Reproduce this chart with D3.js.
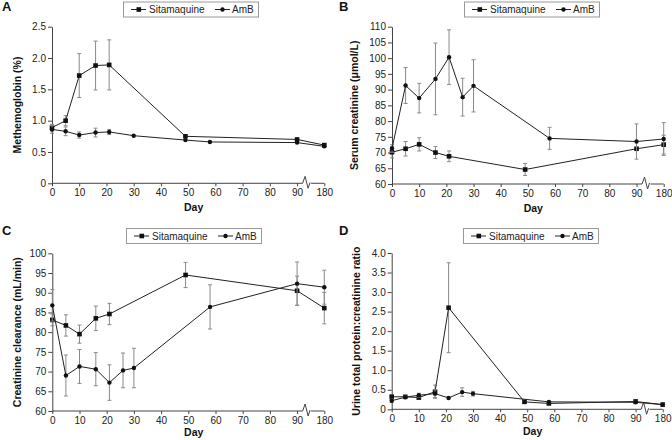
<!DOCTYPE html>
<html><head><meta charset="utf-8">
<script src="https://cdn.jsdelivr.net/npm/d3@7"></script>
<style>
body{margin:0;background:#fff;}
svg{display:block;font-family:"Liberation Sans",Arial,sans-serif;}
</style></head>
<body><svg id="c" width="672" height="440"></svg>
<script>
// ---- data ----
const xTicks = [0,10,20,30,40,50,60,70,80,90,180];
const seriesNames = ["Sitamaquine","AmB"];

// A: Methemoglobin (%)
const sitaDaysA = [0,5,10,16,21,49,90,180];
const sitaA     = [0.89,1.00,1.72,1.88,1.89,0.75,0.70,0.61];
const sitaErrA  = [0.05,0.08,0.35,0.39,0.40,0,0,0];
const ambDaysA  = [0,5,10,16,21,30,49,58,90,180];
const ambA      = [0.86,0.83,0.77,0.81,0.82,0.76,0.69,0.66,0.65,0.59];
const ambErrA   = [0.06,0.07,0.05,0.07,0.04,0,0,0,0,0];
const yTicksA   = [0,0.5,1.0,1.5,2.0,2.5];

// B: Serum creatinine (µmol/L)
const sitaDaysB = [0,5,10,16,21,49,90,180];
const sitaB     = [70.1,71.2,72.6,70.0,68.8,64.6,71.2,72.5];
const sitaErrB  = [1.8,2.3,2.1,1.9,1.7,1.9,0,3.0];
const ambDaysB  = [0,5,10,16,21,26,30,58,90,180];
const ambB      = [71.3,91.3,87.3,93.4,100.3,87.6,91.2,74.5,73.5,74.3];
const ambErrB   = [1.2,5.7,4.7,11.4,8.7,6.0,8.3,3.5,5.6,5.2];
const yTicksB   = [60,65,70,75,80,85,90,95,100,105,110];

// C: Creatinine clearance (mL/min)
const sitaDaysC = [0,5,10,16,21,49,90,180];
const sitaC     = [83.1,81.7,79.5,83.5,84.6,94.5,90.5,86.1];
const sitaErrC  = [1.5,2.7,2.3,3.1,2.7,3.2,3.7,4.0];
const ambDaysC  = [0,5,10,16,21,26,30,58,90,180];
const ambC      = [86.8,69.0,71.3,70.6,67.2,70.3,70.9,86.4,92.3,91.4];
const ambErrC   = [4.0,5.2,4.3,4.2,4.5,4.4,5.0,5.6,5.5,4.3];
const yTicksC   = [60,65,70,75,80,85,90,95,100];

// D: Urine total protein:creatinine ratio
const sitaDaysD = [0,5,10,16,21,49,58,90,180];
const sitaD     = [0.32,0.32,0.30,0.45,2.60,0.19,0.15,0.20,0.12];
const sitaErrD  = [0.05,0.02,0.04,0.17,1.15,0.03,0.03,0.04,0.02];
const ambDaysD  = [0,5,10,16,21,26,30,58,90,180];
const ambD      = [0.22,0.31,0.36,0.40,0.29,0.44,0.40,0.19,0.18,0.12];
const ambErrD   = [0.04,0.03,0.05,0.10,0,0.11,0.06,0.02,0.03,0.02];
const yTicksD   = [0,0.5,1.0,1.5,2.0,2.5,3.0,3.5,4.0];

// ---- layout ----
const zip = (d,v,e) => d.map((x,i)=>({day:x, v:v[i], e:e[i]}));
const panels = [
  {letter:"A", title:"Methemoglobin (%)", box:[52,324.3,26.7,183.3], yt:yTicksA, fmt:d=>d===0?"0":d3.format(".1f")(d),
   sita:zip(sitaDaysA,sitaA,sitaErrA), amb:zip(ambDaysA,ambA,ambErrA), lx:123, ly:1.5, tx:17, dayOff:28},
  {letter:"B", title:"Serum creatinine (\u03bcmol/L)", box:[392,663.7,26.7,184], yt:yTicksB, fmt:d3.format("d"),
   sita:zip(sitaDaysB,sitaB,sitaErrB), amb:zip(ambDaysB,ambB,ambErrB), lx:464, ly:1.5, tx:354, dayOff:28},
  {letter:"C", title:"Creatinine clearance (mL/min)", box:[52.3,324.3,253.3,411], yt:yTicksC, fmt:d3.format("d"),
   sita:zip(sitaDaysC,sitaC,sitaErrC), amb:zip(ambDaysC,ambC,ambErrC), lx:126, ly:228, tx:17, dayOff:25},
  {letter:"D", title:"Urine total protein:creatinine ratio", box:[391.7,662.7,253,409.3], yt:yTicksD, fmt:d=>d===0?"0":d3.format(".1f")(d),
   sita:zip(sitaDaysD,sitaD,sitaErrD), amb:zip(ambDaysD,ambD,ambErrD), lx:463, ly:228, tx:356, dayOff:26}
];
const letterPos = [[2,11],[339,11],[2,235],[339,235]];

const svg = d3.select("#c");
const ink = "#222", errc = "#8a8a8a";

panels.forEach((p,pi)=>{
  const [x0,x1,y0,y1] = p.box;
  const g = svg.append("g");
  const x = d3.scaleLinear().domain([0,90,180]).range([x0, x0+0.9*(x1-x0), x1]);
  const y = d3.scaleLinear().domain([p.yt[0], p.yt[p.yt.length-1]]).range([y1,y0]);

  // letter
  svg.append("text").attr("x",letterPos[pi][0]).attr("y",letterPos[pi][1])
    .attr("font-size",13).attr("font-weight","bold").attr("fill","#111").text(p.letter);

  // y axis
  const ya = g.append("g").attr("transform",`translate(${x0},0)`)
    .call(d3.axisLeft(y).tickValues(p.yt).tickFormat(p.fmt).tickSize(4).tickSizeOuter(0).tickPadding(2));
  ya.selectAll("path,line").attr("stroke","#444");
  ya.selectAll("text").attr("font-size",10).attr("fill","#222").attr("font-family","Liberation Sans, Arial, sans-serif");

  // x axis
  const xa = g.append("g").attr("transform",`translate(0,${y1})`)
    .call(d3.axisBottom(x).tickValues(xTicks).tickFormat(d3.format("d")).tickSize(3).tickSizeOuter(0).tickPadding(3));
  xa.select(".domain").remove();
  xa.selectAll("line").attr("stroke","#444");
  xa.selectAll("text").attr("font-size",10).attr("fill","#222").attr("font-family","Liberation Sans, Arial, sans-serif");
  const xb = x(90) + 0.35*(x(180)-x(90));
  g.append("path").attr("fill","none").attr("stroke","#444").attr("stroke-width",1)
    .attr("d",`M${x0},${y1}H${xb-4}L${xb-1.5},${y1-7}L${xb+1.5},${y1+5}L${xb+3.5},${y1-1} M${xb+4.5},${y1}H${x1}`);

  // axis titles
  g.append("text").attr("x",x0+0.52*(x1-x0)).attr("y",y1+p.dayOff).attr("text-anchor","middle")
    .attr("font-size",10.5).attr("font-weight","bold").attr("fill","#111").text("Day");
  g.append("text").attr("transform",`translate(${p.tx},${(y0+y1)/2}) rotate(-90)`)
    .attr("text-anchor","middle").attr("dy","0.35em")
    .attr("font-size",10.5).attr("font-weight","bold").attr("fill","#111").text(p.title);

  // series
  [["sita",p.sita],["amb",p.amb]].forEach(([k,data])=>{
    const eb = g.append("g").attr("stroke",errc).attr("stroke-width",1);
    data.filter(d=>d.e>0).forEach(d=>{
      const cx = x(d.day), t = y(d.v+d.e), b = y(d.v-d.e);
      eb.append("line").attr("x1",cx).attr("x2",cx).attr("y1",t).attr("y2",b);
      eb.append("line").attr("x1",cx-2).attr("x2",cx+2).attr("y1",t).attr("y2",t);
      eb.append("line").attr("x1",cx-2).attr("x2",cx+2).attr("y1",b).attr("y2",b);
    });
    g.append("path").datum(data).attr("fill","none").attr("stroke",ink).attr("stroke-width",1)
      .attr("d",d3.line().x(d=>x(d.day)).y(d=>y(d.v)));
    if(k==="sita"){
      g.selectAll(null).data(data).enter().append("rect")
        .attr("x",d=>x(d.day)-2.3).attr("y",d=>y(d.v)-2.3).attr("width",4.6).attr("height",4.6).attr("fill","#111");
    } else {
      g.selectAll(null).data(data).enter().append("circle")
        .attr("cx",d=>x(d.day)).attr("cy",d=>y(d.v)).attr("r",2.2).attr("fill","#111");
    }
  });

  // legend
  const lg = svg.append("g").attr("transform",`translate(${p.lx},${p.ly})`);
  lg.append("rect").attr("x",0.5).attr("y",0.5).attr("width",135).attr("height",15)
    .attr("fill","#fff").attr("stroke","#999");
  const ent = [[8,26,seriesNames[0],"sq"],[92,109,seriesNames[1],"ci"]];
  ent.forEach(([a,tx,name,m])=>{
    lg.append("line").attr("x1",a).attr("x2",a+15).attr("y1",8).attr("y2",8).attr("stroke",ink);
    if(m==="sq") lg.append("rect").attr("x",a+5.5).attr("y",5.7).attr("width",4.6).attr("height",4.6).attr("fill","#111");
    else lg.append("circle").attr("cx",a+7.5).attr("cy",8).attr("r",2.2).attr("fill","#111");
    lg.append("text").attr("x",tx).attr("y",11.5).attr("font-size",10).attr("fill","#222").text(name);
  });
});
</script></body></html>
